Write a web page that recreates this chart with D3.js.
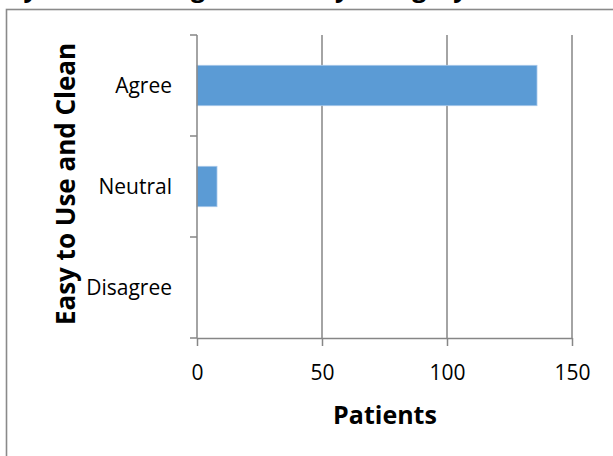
<!DOCTYPE html>
<html>
<head>
<meta charset="utf-8">
<script src="https://cdnjs.cloudflare.com/ajax/libs/d3/7.8.5/d3.min.js"></script>
<style>
html,body{margin:0;padding:0;background:#fff;}
svg{display:block;}
</style>
</head>
<body>
<svg id="chart" width="613" height="456"></svg>
<script>
const categories = ["Agree", "Neutral", "Disagree"];
const patients = [136, 8, 0];
const xTicks = [0, 50, 100, 150];
const titleText = "Survey of Patient Agreement by Category";
const xTitle = "Patients";
const yTitle = "Easy to Use and Clean";

const svg = d3.select("#chart");
const font = "'Open Sans', 'Liberation Sans', sans-serif";
const gray = "#868686";
const margin = {left: 197, top: 35, right: 613 - 572, bottom: 456 - 338};
const W = 613 - margin.left - margin.right;
const H = 456 - margin.top - margin.bottom;

// outer chart border
svg.append("rect").attr("x", 6.5).attr("y", 9.5).attr("width", 640).attr("height", 480)
  .attr("fill", "none").attr("stroke", "#8a8a8a").attr("stroke-width", 1.6);

// title (mostly above the visible area, as in the reference)
svg.append("text").attr("x", -47).attr("y", -3.5)
  .attr("font-family", font).attr("font-weight", "bold").attr("font-size", 25)
  .attr("fill", "#000").text(titleText);

const g = svg.append("g").attr("transform", `translate(${margin.left},${margin.top})`);

const x = d3.scaleLinear().domain([0, 150]).range([0, W]);
const y = d3.scaleBand().domain(categories).range([0, H]).paddingInner(0.6).paddingOuter(0.3);

// gridlines
g.append("g").selectAll("line").data(xTicks.filter(d => d > 0)).join("line")
  .attr("x1", d => x(d)).attr("x2", d => x(d)).attr("y1", 0).attr("y2", H)
  .attr("stroke", gray).attr("stroke-width", 1.5);

// bars
g.append("g").selectAll("rect").data(categories).join("rect")
  .attr("x", x(0)).attr("y", d => y(d))
  .attr("width", (d, i) => x(patients[i]) - x(0))
  .attr("height", y.bandwidth())
  .attr("fill", "#5B9BD5").attr("stroke", "#a8c8ea").attr("stroke-width", 0.8);

// x axis
const xAxis = g.append("g").attr("transform", `translate(0,${H})`)
  .call(d3.axisBottom(x).tickValues(xTicks).tickSize(8).tickSizeOuter(0).tickPadding(19));
xAxis.select(".domain").attr("stroke", gray).attr("stroke-width", 1.5);
xAxis.selectAll(".tick line").attr("stroke", gray).attr("stroke-width", 1.5);
xAxis.selectAll("text").attr("font-family", font).attr("font-size", 21).attr("fill", "#000");

// y axis: ticks at band boundaries
const step = H / categories.length;
const boundaries = d3.range(categories.length + 1).map(i => i * step);
g.append("line").attr("x1", 0).attr("x2", 0).attr("y1", 0).attr("y2", H)
  .attr("stroke", gray).attr("stroke-width", 1.5);
g.append("g").selectAll("line").data(boundaries).join("line")
  .attr("x1", -7).attr("x2", 0).attr("y1", d => d).attr("y2", d => d)
  .attr("stroke", gray).attr("stroke-width", 1.5);
g.append("g").selectAll("text").data(categories).join("text")
  .attr("x", -25).attr("y", d => y(d) + y.bandwidth() / 2)
  .attr("dy", "0.35em").attr("text-anchor", "end")
  .attr("font-family", font).attr("font-size", 21).attr("fill", "#000")
  .text(d => d);

// axis titles
svg.append("text").attr("x", 385).attr("y", 424).attr("text-anchor", "middle")
  .attr("font-family", font).attr("font-weight", "bold").attr("font-size", 25)
  .attr("fill", "#000").text(xTitle);
svg.append("text").attr("transform", "translate(75,184) rotate(-90)")
  .attr("text-anchor", "middle")
  .attr("font-family", font).attr("font-weight", "bold").attr("font-size", 26)
  .attr("fill", "#000").text(yTitle);
</script>
</body>
</html>
